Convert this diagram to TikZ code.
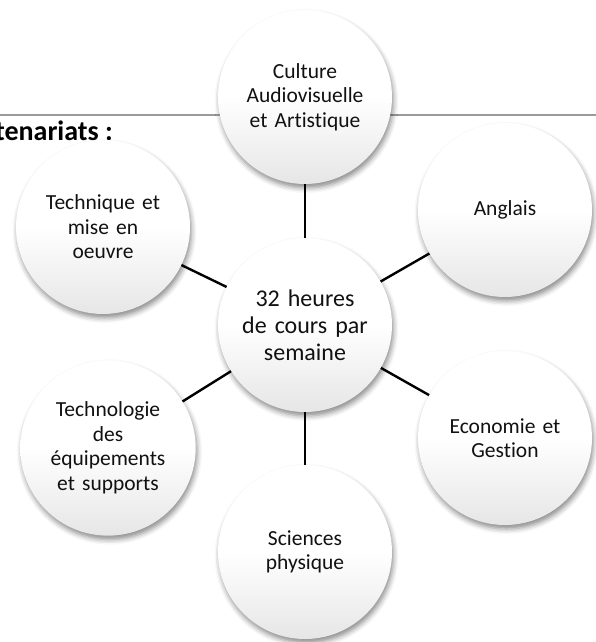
\documentclass[tikz,border=0pt]{standalone}
\usepackage{fontspec}
\setmainfont{Carlito}[Ligatures=NoCommon]
\usepackage{tikz}
\usepackage{xcolor}
\usetikzlibrary{shadows.blur}
\definecolor{RuleGray}{HTML}{9A9A9A}
\definecolor{InkBlack}{HTML}{111111}
\definecolor{BallBottom}{HTML}{E6E6E6}
\tikzset{
    % Node styles - round bubbles with soft shadow
    topicbubble/.style={
        circle,
        draw=none,
        top color=white,
        bottom color=BallBottom,
        middle color=white,
        minimum size=174pt,
        inner sep=0pt,
        text width=150pt,
        align=center,
        text=InkBlack,
        font=\fontsize{21.5}{24.5}\selectfont,
        blur shadow={shadow xshift=1.5pt, shadow yshift=-4pt,
            shadow blur radius=5pt, shadow opacity=45}
    },
    hubbubble/.style={
        topicbubble,
        font=\fontsize{24}{27}\selectfont
    },
    % Connector styles
    spoke/.style={
        draw=black,
        line width=2.4pt
    },
    headrule/.style={
        draw=RuleGray,
        line width=1.6pt
    }
}
\begin{document}
\begin{tikzpicture}[x=1pt, y=-1pt]
    \useasboundingbox (0,0) rectangle (596,642);

    % page background: rule and cut heading
    \draw[headrule] (0,115) -- (596,115);
    \node[anchor=base east, inner sep=0pt, font=\fontsize{28}{32}\selectfont\bfseries] (head) at (113,140) {Partenariats :};

    \node[hubbubble] (hub) at (305,325) {32 heures\\de cours par\\semaine};

    \node[topicbubble] (culture) at (305,97) {Culture\\Audiovisuelle\\et Artistique};
    \node[topicbubble] (anglais) at (505,210) {Anglais};
    \node[topicbubble] (eco) at (505,438) {Economie et\\Gestion};
    \node[topicbubble] (sciences) at (305,552) {Sciences\\physique};
    \node[topicbubble] (techno) at (108,448) {Technologie\\des\\équipements\\et supports};
    \node[topicbubble] (technique) at (103,227) {Technique et\\mise en\\oeuvre};

    \draw[spoke] (hub) -- (culture);
    \draw[spoke] (hub) -- (anglais);
    \draw[spoke] (hub) -- (eco);
    \draw[spoke] (hub) -- (sciences);
    \draw[spoke] (hub) -- (techno);
    \draw[spoke] (hub) -- (technique);
\end{tikzpicture}
\end{document}
